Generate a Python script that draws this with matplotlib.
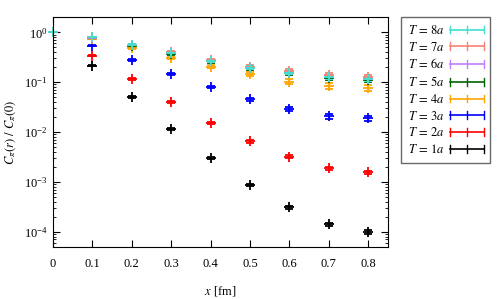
import numpy as np
import matplotlib
matplotlib.use("Agg")
import matplotlib.pyplot as plt
from matplotlib.legend_handler import HandlerBase
from matplotlib.lines import Line2D

plt.rcParams['font.family'] = ['Liberation Serif', 'DejaVu Serif']
plt.rcParams['mathtext.fontset'] = 'stix'

x = [0.0, 0.1, 0.2, 0.3, 0.4, 0.5, 0.6, 0.7, 0.8]

# C_pi(r)/C_pi(0) for each Euclidean time separation
c_T1 = [1.0, 0.215, 0.0508, 0.0116, 0.00297, 0.00087, 0.00031, 0.00014, 0.0001]
c_T2 = [1.0, 0.34, 0.116, 0.040, 0.0153, 0.0065, 0.0032, 0.00187, 0.00156]
c_T3 = [1.0, 0.54, 0.279, 0.147, 0.079, 0.0457, 0.0288, 0.0209, 0.0187]
c_T4 = [1.0, 0.75, 0.485, 0.31, 0.205, 0.145, 0.103, 0.084, 0.076]
c_T5 = [1.0, 0.77, 0.54, 0.375, 0.26, 0.19, 0.15, 0.122, 0.113]
c_T6 = [1.0, 0.78, 0.55, 0.385, 0.265, 0.195, 0.155, 0.128, 0.118]
c_T7 = [1.0, 0.79, 0.565, 0.40, 0.275, 0.205, 0.168, 0.14, 0.128]
c_T8 = [1.0, 0.79, 0.557, 0.39, 0.267, 0.196, 0.156, 0.126, 0.118]

# relative errors
e_T1 = [0.0, 0.03, 0.04, 0.05, 0.05, 0.06, 0.07, 0.08, 0.08]
e_T2 = [0.0, 0.02, 0.03, 0.04, 0.05, 0.06, 0.07, 0.08, 0.08]
e_T3 = [0.0, 0.02, 0.03, 0.04, 0.05, 0.07, 0.09, 0.11, 0.12]
e_T4 = [0.0, 0.03, 0.04, 0.05, 0.06, 0.08, 0.10, 0.12, 0.14]
e_T5 = [0.0, 0.03, 0.04, 0.05, 0.06, 0.07, 0.08, 0.09, 0.10]
e_T6 = [0.0, 0.03, 0.04, 0.05, 0.06, 0.07, 0.08, 0.09, 0.10]
e_T7 = [0.0, 0.03, 0.04, 0.05, 0.06, 0.07, 0.08, 0.09, 0.10]
e_T8 = [0.0, 0.03, 0.04, 0.05, 0.06, 0.07, 0.08, 0.09, 0.10]

labels = [r'$T\,=\,8a$', r'$T\,=\,7a$', r'$T\,=\,6a$', r'$T\,=\,5a$',
          r'$T\,=\,4a$', r'$T\,=\,3a$', r'$T\,=\,2a$', r'$T\,=\,1a$']
series = [c_T8, c_T7, c_T6, c_T5, c_T4, c_T3, c_T2, c_T1]
errors = [e_T8, e_T7, e_T6, e_T5, e_T4, e_T3, e_T2, e_T1]
colors = ['#40e0d0', '#fa8072', '#c080ff', '#006400',
          '#ffa500', '#0000ff', '#ff0000', '#000000']


class BarKeyHandler(HandlerBase):
    # gnuplot style key: horizontal line with end ticks and a mid tick
    def create_artists(self, legend, orig_handle, xdescent, ydescent,
                       width, height, fontsize, trans):
        c = orig_handle.get_color()
        y0 = height / 2 - ydescent
        t = height * 0.45
        arts = [Line2D([-xdescent, width - xdescent], [y0, y0], color=c, lw=1.2)]
        for xx in [-xdescent, width / 2 - xdescent, width - xdescent]:
            arts.append(Line2D([xx, xx], [y0 - t, y0 + t], color=c, lw=1.0))
        for a in arts:
            a.set_transform(trans)
        return arts


fig = plt.figure(figsize=(4.98, 2.99), dpi=100)
ax = fig.add_axes([0.1064, 0.1749, 0.6733, 0.7672])

# draw from T=1a upward so the larger T sit on top
for lab, y, e, c in list(zip(labels, series, errors, colors))[::-1]:
    y = np.array(y)
    err = y * np.array(e)
    h = ax.errorbar(x, y, yerr=err, fmt='+', color=c, ms=7, mew=1.3,
                    elinewidth=1.0, capsize=3, capthick=1.0)
    for art in h.get_children():
        art.set_clip_on(False)

ax.set_yscale('log')
ax.set_xlim(0, 0.851)
ax.set_ylim(5e-5, 2)
ax.set_xticks(x)
ax.set_xticklabels(['0', '0.1', '0.2', '0.3', '0.4', '0.5', '0.6', '0.7', '0.8'])
ax.tick_params(which='both', direction='in', top=True, right=True, labelsize=9)
ax.tick_params(which='major', length=5, pad=8)
ax.tick_params(which='minor', length=2.5)
ax.tick_params(axis='y', pad=4)
ax.set_xlabel('$x$ [fm]', fontsize=9, labelpad=10)
ax.set_ylabel(r'$C_\pi(r)\ /\ C_\pi(0)$', fontsize=9)

proxies = [Line2D([], [], color=c) for c in colors]
leg = fig.legend(proxies, labels, loc='upper left', bbox_to_anchor=(401/498, 1 - 17/299),
                 markerfirst=False, fontsize=9, frameon=True, fancybox=False,
                 edgecolor='#444444', handlelength=2.7, labelspacing=0.3,
                 borderpad=0.55, handletextpad=0.45, borderaxespad=0,
                 handler_map={Line2D: BarKeyHandler()})
leg.get_frame().set_linewidth(1.0)

fig.savefig('out.png', dpi=100)
